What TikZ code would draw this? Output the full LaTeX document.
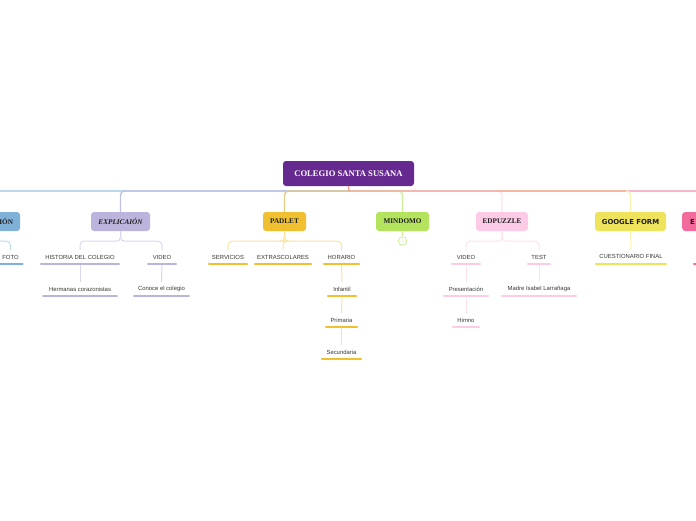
\documentclass[tikz,border=0pt]{standalone}
\usepackage{fontspec}
\setmainfont{Liberation Serif}
\newfontfamily\leaffont{Liberation Sans}
\newfontfamily\boldsans{DejaVu Sans}
\definecolor{rootC}{HTML}{65298F}
\definecolor{blueC}{HTML}{7FB1D8}
\definecolor{blueL}{HTML}{BCD8EE}
\definecolor{lavC}{HTML}{BCB4DC}
\definecolor{lavL}{HTML}{DAD6EE}
\definecolor{lavM}{HTML}{BEC2E2}
\definecolor{goldC}{HTML}{F0C030}
\definecolor{goldL}{HTML}{F8E4A0}
\definecolor{goldM}{HTML}{E2CC84}
\definecolor{greenC}{HTML}{B4E35E}
\definecolor{greenL}{HTML}{CDEE98}
\definecolor{pinkC}{HTML}{FDCBE5}
\definecolor{pinkL}{HTML}{FDE2F0}
\definecolor{yelC}{HTML}{EEE35A}
\definecolor{yelL}{HTML}{F8F2B0}
\definecolor{hotC}{HTML}{F36B9C}
\definecolor{salmC}{HTML}{F2A496}
\definecolor{pinkM}{HTML}{F7B5CB}
\definecolor{txtC}{HTML}{383838}
\tikzset{
  box/.style={rounded corners=3pt, minimum height=19pt, inner sep=0pt, text=black!88,
    font=\bfseries\fontsize{7.2}{8}\selectfont},
  leaf/.style={font=\leaffont\fontsize{5.9}{7}\selectfont, text=txtC, inner xsep=0pt,
    inner ysep=0pt, minimum height=14pt, minimum width=#1},
  leaf/.default=30pt,
  uline/.style={line width=2.4pt, line cap=round},
  conn/.style={line width=1pt, rounded corners=4pt},
  mainline/.style={line width=1.4pt, rounded corners=4pt}
}
\newcommand\uln[2]{\draw[uline,#1] ([xshift=1.2pt]#2.south west) -- ([xshift=-1.2pt]#2.south east);}
\begin{document}
\begin{tikzpicture}[x=1pt,y=-1pt]
\useasboundingbox (0,0) rectangle (696,520);
\clip (0,0) rectangle (696,520);
% root
\node[box, fill=rootC, text=white, minimum width=131pt, minimum height=25pt,
  font=\bfseries\fontsize{8.6}{10}\selectfont] (root) at (348.5,173.5) {COLEGIO SANTA SUSANA};
\coordinate (hub) at (349,191);
\coordinate (leftend) at (-5,191);
\coordinate (salmend) at (626,191);
\coordinate (rightend) at (700,191);
% branch boxes
\node[box, fill=blueC, minimum width=80pt, text width=66pt, align=right, inner xsep=7pt] (pres) at (-20,221.5) {IÓN};
\node[box, fill=lavC, minimum width=59pt, font=\bfseries\itshape\fontsize{7.2}{8}\selectfont] (expl) at (120.5,221.5) {EXPLICAIÓN};
\node[box, fill=goldC, minimum width=43pt] (padlet) at (284.5,221.5) {PADLET};
\node[box, fill=greenC, minimum width=53pt] (mindomo) at (402.5,221.5) {MINDOMO};
\node[box, fill=pinkC, minimum width=52pt] (edpuzzle) at (502,221.5) {EDPUZZLE};
\node[box, fill=yelC, minimum width=71pt, font=\boldsans\bfseries\fontsize{6.9}{8}\selectfont] (google) at (630.5,221.5) {GOOGLE FORM};
\node[box, fill=hotC, anchor=west, minimum width=60pt, text width=44pt, align=left, inner xsep=8pt,
  font=\boldsans\bfseries\fontsize{6.9}{8}\selectfont] (ebox) at (682,221.5) {E};
% main connectors
\draw[mainline, blueL] (hub) -- (leftend);
\draw[mainline, lavM] (hub) -| (expl.north);
\draw[mainline, goldM] (hub) -| (padlet.north);
\draw[mainline, pinkM] (hub) -- (rightend);
\draw[mainline, yelL] (hub) -| (google.north);
\draw[mainline, pinkL] (hub) -| (edpuzzle.north);
\draw[mainline, greenL] (hub) -| (mindomo.north);
\draw[mainline, salmC, rounded corners=0pt] (root.south) -- (hub) -- (salmend);
% leaves
\node[leaf=26pt] (foto) at (10.5,257) {FOTO};
\node[leaf=80pt] (hist) at (80,257) {HISTORIA DEL COLEGIO};
\node[leaf=76pt] (herm) at (80,289) {Hermanas corazonistas};
\node[leaf=30pt] (video1) at (162,257) {VIDEO};
\node[leaf=57pt] (conoce) at (161.5,289) {Conoce el colegio};
\node[leaf=40pt] (serv) at (228,257) {SERVICIOS};
\node[leaf=58pt] (extra) at (283,257) {EXTRASCOLARES};
\node[leaf=37pt] (horario) at (341.5,257) {HORARIO};
\node[leaf=30pt] (infantil) at (342,289) {Infantil};
\node[leaf=33pt] (primaria) at (341.5,320) {Primaria};
\node[leaf=41pt] (secundaria) at (341.5,352) {Secundaria};
\node[leaf=30pt] (video2) at (466,257) {VIDEO};
\node[leaf=46pt] (present) at (466,289) {Presentación};
\node[leaf=28pt] (himno) at (466,320) {Himno};
\node[leaf=24pt] (test) at (539,257) {TEST};
\node[leaf=76pt] (madre) at (539,289) {Madre Isabel Larrañaga};
\node[leaf=72pt] (cuest) at (631,256.5) {CUESTIONARIO FINAL};
\node[circle, draw=greenL, line width=0.8pt, minimum size=8.5pt, inner sep=0pt, text=greenL,
  font=\leaffont\fontsize{5}{5}\selectfont] (one) at (402.5,241) {1};
\coordinate (ech) at (694,264);
% leaf connectors
\draw[conn, blueL] (pres.south) -- ++(0,10) -| (foto.north);
\draw[conn, lavL] (expl.south) -- ++(0,10) -| (hist.north);
\draw[conn, lavL] (expl.south) -- ++(0,10) -| (video1.north);
\draw[conn, lavL] (hist.south) -- (herm.north);
\draw[conn, lavL] (video1.south) -- (conoce.north);
\draw[conn, goldL] (padlet.south) -- ++(0,10) -| (serv.north);
\draw[conn, goldL] (padlet.south) -- ++(0,10) -| (extra.north);
\draw[conn, goldL] (padlet.south) -- ++(0,10) -| (horario.north);
\draw[conn, goldL] (horario.south) -- (infantil.north);
\draw[conn, goldL] (infantil.south) -- (primaria.north);
\draw[conn, goldL] (primaria.south) -- (secundaria.north);
\draw[conn, greenL] (mindomo.south) -- (one.north);
\draw[conn, pinkL] (edpuzzle.south) -- ++(0,10) -| (video2.north);
\draw[conn, pinkL] (edpuzzle.south) -- ++(0,10) -| (test.north);
\draw[conn, pinkL] (video2.south) -- (present.north);
\draw[conn, pinkL] (present.south) -- (himno.north);
\draw[conn, pinkL] (test.south) -- (madre.north);
\draw[conn, yelL] (google.south) -- (cuest.north);
% underlines
\uln{blueC}{foto}
\uln{lavC}{hist}
\uln{lavC}{herm}
\uln{lavC}{video1}
\uln{lavC}{conoce}
\uln{goldC}{serv}
\uln{goldC}{extra}
\uln{goldC}{horario}
\uln{goldC}{infantil}
\uln{goldC}{primaria}
\uln{goldC}{secundaria}
\uln{pinkC}{video2}
\uln{pinkC}{present}
\uln{pinkC}{himno}
\uln{pinkC}{test}
\uln{pinkC}{madre}
\uln{yelC}{cuest}
\draw[uline, hotC] (ech) -- ++(10,0);
\end{tikzpicture}
\end{document}
